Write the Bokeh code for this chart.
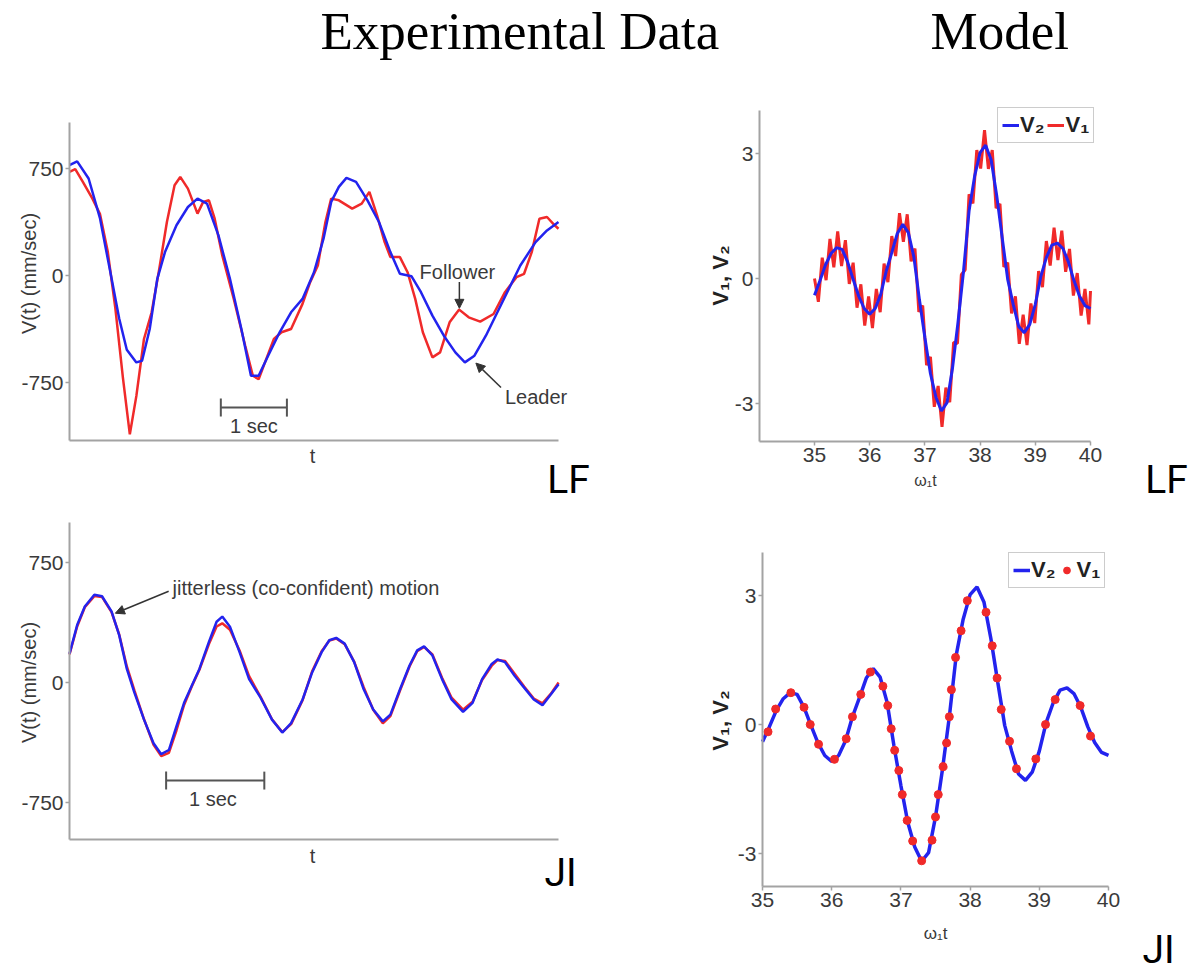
import math
from bokeh.plotting import figure
from bokeh.layouts import column, row
from bokeh.models import (Range1d, FixedTicker, Label, Arrow, NormalHead,
                          Legend, LegendItem)
from bokeh.embed import file_html
from bokeh.resources import INLINE

# ---------------- data: experimental, leader/follower (LF) ----------------
lf_leader_t = [0, 0.116, 0.289, 0.462, 0.636, 0.751, 0.867, 1.012, 1.098, 1.214,
               1.329, 1.445, 1.619, 1.792, 1.937, 2.081, 2.254, 2.428, 2.601, 2.746,
               2.862, 3.006, 3.180, 3.353, 3.526, 3.700, 3.844, 3.960, 4.076, 4.191,
               4.336, 4.509, 4.683, 4.856, 5.000, 5.174, 5.319, 5.492, 5.665, 5.839,
               5.983, 6.128, 6.301, 6.475, 6.648, 6.822, 7.053, 7.226, 7.400]
lf_leader_v = [773, 800, 680, 400, -20, -300, -520, -609, -598, -375,
               -23, 164, 352, 480, 539, 504, 281, -23, -375, -703,
               -703, -562, -398, -258, -164, 23, 258, 516, 621, 684,
               656, 527, 375, 164, 12, -5, -117, -281, -422, -539,
               -609, -562, -422, -258, -94, 70, 234, 316, 375]
lf_follower_t = [0, 0.087, 0.202, 0.347, 0.462, 0.578, 0.694, 0.809, 0.913, 1.012,
                 1.127, 1.243, 1.359, 1.474, 1.590, 1.676, 1.792, 1.937, 2.023, 2.110,
                 2.197, 2.312, 2.486, 2.659, 2.775, 2.862, 2.977, 3.093, 3.208, 3.353,
                 3.526, 3.642, 3.758, 3.873, 3.960, 4.076, 4.278, 4.422, 4.538, 4.654,
                 4.769, 4.856, 5.000, 5.116, 5.232, 5.347, 5.492, 5.608, 5.752, 5.897,
                 6.041, 6.215, 6.417, 6.590, 6.764, 6.879, 6.995, 7.111, 7.226, 7.342,
                 7.400]
lf_follower_v = [727, 745, 656, 539, 430, 170, -230, -720, -1113, -844,
                 -445, -258, 47, 375, 633, 691, 609, 434, 516, 527,
                 398, 141, -164, -492, -703, -727, -586, -445, -398, -375,
                 -199, -47, 70, 375, 539, 527, 469, 504, 586, 422,
                 234, 129, 129, 23, -164, -398, -574, -539, -328, -239,
                 -293, -323, -270, -117, -12, 12, 164, 398, 410, 352,
                 328]

# ---------------- data: experimental, jitterless (JI) ----------------
ji_t = [0, 0.078, 0.156, 0.253, 0.331, 0.428, 0.506, 0.584, 0.661, 0.759,
        0.856, 0.934, 1.012, 1.089, 1.167, 1.245, 1.323, 1.420, 1.498, 1.556,
        1.634, 1.732, 1.829, 1.946, 2.062, 2.167, 2.257, 2.374, 2.471, 2.568,
        2.646, 2.716, 2.802, 2.899, 2.996, 3.093, 3.191, 3.268, 3.366, 3.463,
        3.541, 3.611, 3.696, 3.794, 3.891, 4.008, 4.105, 4.202, 4.300, 4.358,
        4.436, 4.533, 4.630, 4.728, 4.817, 4.903, 4.981]
ji_blue_v = [180, 359, 475, 549, 539, 444, 296, 85, -63, -232,
             -380, -448, -422, -275, -127, -21, 85, 254, 380, 412,
             349, 190, 21, -95, -232, -313, -254, -106, 63, 190,
             264, 279, 243, 127, -42, -169, -243, -201, -42, 106,
             201, 226, 169, 21, -106, -184, -127, 21, 116, 144,
             127, 42, -32, -106, -142, -74, -11]
ji_red_v = [175, 350, 470, 540, 535, 440, 300, 100, -50, -230,
            -390, -460, -440, -300, -140, -25, 80, 240, 350, 370,
            330, 200, 40, -90, -230, -310, -260, -110, 70, 195,
            262, 275, 240, 130, -30, -170, -255, -210, -50, 100,
            195, 222, 175, 30, -95, -170, -120, 15, 105, 140,
            135, 55, -25, -100, -130, -70, 0]

# ---------------- data: model ----------------
model_x = [35.0, 35.1, 35.2, 35.3, 35.4, 35.5, 35.6, 35.7, 35.8, 35.9,
           36.0, 36.1, 36.2, 36.3, 36.4, 36.5, 36.6, 36.7, 36.8, 36.9,
           37.0, 37.1, 37.2, 37.3, 37.4, 37.5, 37.6, 37.7, 37.8, 37.9,
           38.0, 38.1, 38.2, 38.3, 38.4, 38.5, 38.6, 38.7, 38.8, 38.9,
           39.0, 39.1, 39.2, 39.3, 39.4, 39.5, 39.6, 39.7, 39.8, 39.9, 40.0]
model_v2 = [-0.40, -0.05, 0.33, 0.60, 0.74, 0.70, 0.40, -0.02, -0.42, -0.72,
            -0.86, -0.72, -0.38, 0.18, 0.62, 1.08, 1.30, 1.10, 0.52, -0.50,
            -1.42, -2.28, -2.85, -3.18, -2.98, -2.15, -1.05, 0.18, 1.62, 2.45,
            3.02, 3.20, 2.85, 2.00, 0.98, -0.02, -0.62, -1.15, -1.30, -1.10,
            -0.62, 0.05, 0.50, 0.80, 0.85, 0.72, 0.40, -0.05, -0.42, -0.65, -0.72]

lf_v1_x = [35.00, 35.07, 35.14, 35.21, 35.28, 35.35, 35.42, 35.49, 35.56, 35.63,
           35.70, 35.77, 35.84, 35.91, 35.98, 36.05, 36.12, 36.19, 36.26, 36.33,
           36.40, 36.47, 36.54, 36.61, 36.68, 36.75, 36.82, 36.89, 36.96, 37.03,
           37.10, 37.17, 37.24, 37.31, 37.38, 37.45, 37.52, 37.59, 37.66, 37.73,
           37.80, 37.87, 37.94, 38.01, 38.08, 38.15, 38.22, 38.29, 38.36, 38.43,
           38.50, 38.57, 38.64, 38.71, 38.78, 38.85, 38.92, 38.99, 39.06, 39.13,
           39.20, 39.27, 39.34, 39.41, 39.48, 39.55, 39.62, 39.69, 39.76, 39.83,
           39.90, 39.97, 40.00]
lf_v1 = [0.00, -0.56, 0.50, -0.04, 0.95, 0.27, 1.13, 0.30, 0.92, -0.13,
         0.38, -0.70, -0.14, -1.13, -0.43, -1.19, -0.25, -0.81, 0.36, -0.09,
         1.02, 0.54, 1.57, 0.88, 1.54, 0.41, 0.72, -0.80, -0.65, -2.08,
         -1.88, -3.08, -2.58, -3.56, -2.62, -2.97, -1.53, -1.56, 0.09, 0.21,
         2.02, 1.80, 3.08, 2.64, 3.56, 2.63, 3.08, 1.69, 1.79, 0.28,
         0.38, -0.84, -0.43, -1.57, -0.87, -1.60, -0.60, -1.07, 0.18, -0.21,
         0.90, 0.31, 1.22, 0.44, 1.15, 0.16, 0.71, -0.41, 0.13, -0.89,
         -0.25, -1.10, -0.30]

ji_v1_x = [35.08, 35.19, 35.41, 35.60, 35.69, 35.81, 36.04, 36.21, 36.30, 36.42,
           36.56, 36.74, 36.81, 36.86, 36.91, 36.97, 37.02, 37.09, 37.17, 37.30,
           37.45, 37.50, 37.54, 37.61, 37.66, 37.70, 37.73, 37.79, 37.87, 37.96,
           38.23, 38.32, 38.39, 38.45, 38.57, 38.67, 38.95, 39.09, 39.23, 39.59, 39.74]
ji_v1 = [-0.17, 0.36, 0.74, 0.40, 0.00, -0.46, -0.81, -0.33, 0.18, 0.70,
         1.22, 0.89, 0.44, -0.10, -0.60, -1.07, -1.63, -2.23, -2.71, -3.17,
         -2.69, -2.15, -1.63, -0.98, -0.43, 0.18, 0.81, 1.56, 2.18, 2.88,
         2.61, 1.83, 1.08, 0.35, -0.39, -1.03, -0.80, 0.00, 0.58, 0.44, -0.27]

exp_yticks = [-750, 0, 750]
model_yticks = [-3, 0, 3]
model_xticks = [35, 36, 37, 38, 39, 40]

# scale bars (t start, t end, level)
lf_bar = (2.29, 3.29, -926)
ji_bar = (0.984, 1.984, -613)

BLUE = "#2323ee"
RED = "#f02a2a"
AX = "#a3a3a3"
TXT = "#3a3a3a"
SANS = "Liberation Sans"
TAG = "Roboto"


def lin(p0, v0, p1, v1):
    k = (v1 - v0) / (p1 - p0)
    return lambda px: v0 + (px - p0) * k


class Panel:
    """A figure whose frame fills its whole box; axes sit at fixed locations."""

    def __init__(self, ox, oy, w, h, xmap, ymap):
        self.ox, self.oy, self.w, self.h = ox, oy, w, h
        self.fx = lin(*xmap)
        self.fy = lin(*ymap)
        self.p = figure(width=w, height=h, title=None,
                        x_range=Range1d(self.fx(ox), self.fx(ox + w)),
                        y_range=Range1d(self.fy(oy + h), self.fy(oy)),
                        toolbar_location=None, output_backend="svg", min_border=0)
        p = self.p
        p.grid.visible = False
        p.outline_line_color = None
        for ax in (p.xaxis[0], p.yaxis[0]):
            ax.axis_line_color = AX
            ax.axis_line_width = 2
            ax.major_tick_line_color = AX
            ax.major_tick_line_width = 1.5
            ax.major_tick_in = 0
            ax.major_tick_out = 4
            ax.minor_tick_line_color = None
            ax.major_label_text_font = SANS
            ax.major_label_text_font_size = "21px"
            ax.major_label_text_color = TXT
            ax.major_label_standoff = 2

    def axes(self, xaxis_py, xbounds, yaxis_px, ybounds_py):
        p = self.p
        p.xaxis.fixed_location = self.fy(xaxis_py)
        p.xaxis.bounds = xbounds
        p.yaxis.fixed_location = self.fx(yaxis_px)
        p.yaxis.bounds = (self.fy(ybounds_py[0]), self.fy(ybounds_py[1]))

    def text(self, px, py, text, size="20px", font=SANS, align="center",
             angle=0.0, color=TXT, style="normal"):
        self.p.add_layout(Label(x=px - self.ox, y=self.oy + self.h - py,
                                x_units="screen", y_units="screen", text=text,
                                text_font=font, text_font_size=size,
                                text_align=align, text_baseline="middle",
                                angle=angle, text_color=color,
                                text_font_style=style))


def dlab(p, x, y, text, align="center"):
    p.add_layout(Label(x=x, y=y, text=text, text_font=SANS, text_font_size="20px",
                       text_align=align, text_baseline="middle", text_color=TXT))


def scale_bar(p, bar, half):
    t0, t1, v = bar
    p.segment(x0=[t0, t0, t1], y0=[v, v - half, v - half],
              x1=[t1, t0, t1], y1=[v, v + half, v + half],
              line_color="#555555", line_width=2)


def arrow(p, xs, ys, xe, ye):
    p.add_layout(Arrow(x_start=xs, y_start=ys, x_end=xe, y_end=ye,
                       line_color="#333333", line_width=1.5,
                       end=NormalHead(size=9, fill_color="#333333",
                                      line_color="#333333")))


def legend(p, items, loc):
    p.add_layout(Legend(items=items, orientation="horizontal", location=loc,
                        label_text_font=SANS, label_text_font_size="22px",
                        label_text_font_style="bold", label_text_color="#222222",
                        glyph_width=17, glyph_height=24, label_standoff=1,
                        spacing=3, padding=4, margin=0,
                        border_line_color="#9a9a9a", background_fill_color="white",
                        background_fill_alpha=1))


# ---------------- title strip ----------------
title = figure(width=1189, height=70, title=None, x_range=Range1d(0, 1),
               y_range=Range1d(0, 1), x_axis_location=None, y_axis_location=None,
               toolbar_location=None, output_backend="svg", min_border=0,
               outline_line_color=None)
title.grid.visible = False
for txt, x in (("Experimental Data", 320), ("Model", 930)):
    title.add_layout(Label(x=x, y=70 - 30, x_units="screen", y_units="screen",
                           text=txt, text_font="Liberation Serif",
                           text_font_size="53px", text_align="left",
                           text_baseline="middle", text_color="#000000"))

ROW1_H = 442
ROW2_Y = 70 + ROW1_H
ROW2_H = 973 - ROW2_Y

# ---------------- top-left: LF experimental ----------------
TL = Panel(0, 70, 600, ROW1_H, (69, 0, 558, 7.4), (168, 750, 382, -750))
tl = TL.p
TL.axes(440, (0, 7.4), 69, (440, 122))
tl.xaxis.ticker = FixedTicker(ticks=[])
tl.yaxis.ticker = FixedTicker(ticks=exp_yticks)
tl.yaxis.major_label_overrides = {-750: "-750"}
tl.line(lf_follower_t, lf_follower_v, line_color=RED, line_width=2.5)
tl.line(lf_leader_t, lf_leader_v, line_color=BLUE, line_width=2.5)
scale_bar(tl, lf_bar, 63)
dlab(tl, 2.79, -1055, "1 sec")
dlab(tl, 5.87, 28, "Follower")
arrow(tl, 5.90, -45, 5.90, -230)
dlab(tl, 6.59, -855, "Leader", align="left")
arrow(tl, 6.53, -785, 6.15, -614)
TL.text(312, 455, "t")
TL.text(28, 273, "V(t) (mm/sec)", angle=math.pi / 2)
TL.text(568, 479, "LF", size="39px", font=TAG, color="#000000")

# ---------------- top-right: LF model ----------------
TR = Panel(600, 70, 589, ROW1_H, (814, 35, 1090, 40), (153, 3, 403, -3))
tr = TR.p
TR.axes(441, (TR.fx(759), 40), 759, (441, 110))
tr.xaxis.ticker = FixedTicker(ticks=model_xticks)
tr.yaxis.ticker = FixedTicker(ticks=model_yticks)
tr.yaxis.major_label_overrides = {-3: "-3"}
r_v1 = tr.line(lf_v1_x, lf_v1, line_color=RED, line_width=3)
r_v2 = tr.line(model_x, model_v2, line_color=BLUE, line_width=3)
legend(tr, [LegendItem(label="V₂", renderers=[r_v2]),
            LegendItem(label="V₁", renderers=[r_v1])],
       (997 - 600, 70 + ROW1_H - 143))
TR.text(925, 480, "ω₁t", size="16px")
TR.text(720, 275, "V₁, V₂", size="22px", angle=math.pi / 2, style="bold",
        color="#222222")
TR.text(1166, 479, "LF", size="39px", font=TAG, color="#000000")

# ---------------- bottom-left: JI experimental ----------------
BL = Panel(0, ROW2_Y, 600, ROW2_H, (69, 0, 558, 4.98), (562, 750, 802, -750))
bl = BL.p
BL.axes(839, (0, 4.98), 69, (839, 522))
bl.xaxis.ticker = FixedTicker(ticks=[])
bl.yaxis.ticker = FixedTicker(ticks=exp_yticks)
bl.yaxis.major_label_overrides = {-750: "-750"}
bl.line(ji_t, ji_red_v, line_color=RED, line_width=2.5)
bl.line(ji_t, ji_blue_v, line_color=BLUE, line_width=2.5)
scale_bar(bl, ji_bar, 56)
dlab(bl, 1.46, -729, "1 sec")
dlab(bl, 1.05, 592, "jitterless (co-confident) motion", align="left")
arrow(bl, 1.01, 570, 0.467, 433)
BL.text(312, 855, "t")
BL.text(28, 682, "V(t) (mm/sec)", angle=math.pi / 2)
BL.text(560, 872, "JI", size="39px", font=TAG, color="#000000")

# ---------------- bottom-right: JI model ----------------
BR = Panel(600, ROW2_Y, 589, ROW2_H, (762, 35, 1108, 40), (595, 3, 853, -3))
br = BR.p
BR.axes(886, (35, 40), 762, (886, 552))
br.xaxis.ticker = FixedTicker(ticks=model_xticks)
br.yaxis.ticker = FixedTicker(ticks=model_yticks)
br.yaxis.major_label_overrides = {-3: "-3"}
b_v2 = br.line(model_x, model_v2, line_color=BLUE, line_width=3.5)
b_v1 = br.scatter(ji_v1_x, ji_v1, size=8, fill_color=RED, line_color=RED)
legend(br, [LegendItem(label="V₂", renderers=[b_v2]),
            LegendItem(label="V₁", renderers=[b_v1])], (1008 - 600, 973 - 588))
BR.text(935, 933, "ω₁t", size="17px")
BR.text(720, 720, "V₁, V₂", size="22px", angle=math.pi / 2, style="bold",
        color="#222222")
BR.text(1158, 949, "JI", size="39px", font=TAG, color="#000000")

layout = column(title, row(tl, tr, spacing=0), row(bl, br, spacing=0), spacing=0)
open("out.html", "w").write(file_html(layout, INLINE))
